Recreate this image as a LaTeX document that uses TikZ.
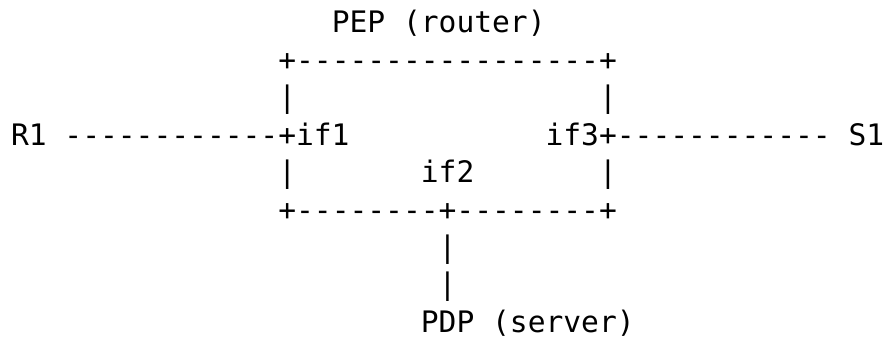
\documentclass[tikz,border=0pt]{standalone}
\usepackage{fontspec}
\setmonofont{DejaVu Sans Mono}
\begin{document}
\begin{tikzpicture}[x=1pt,y=1pt,
  ascii/.style={anchor=base west,inner sep=0pt,outer sep=0pt,font=\ttfamily\fontsize{29.6}{36}\selectfont}]
\useasboundingbox (0,0) rectangle (891,-339);
% column c -> x = 11 + 17.82c ; row r -> baseline y = -(33 + 37.4 r)
\def\cx#1{\fpeval{11+17.82*#1}}
\def\ry#1{\fpeval{-(33+37.4*#1)}}
\node[ascii] (pep)    at (\cx{18},\ry{0}) {PEP};
\node[ascii] (router) at (\cx{22},\ry{0}) {(router)};
\node[ascii] (top)    at (\cx{15},\ry{1}) {+-----------------+};
\node[ascii] (l2)     at (\cx{15},\ry{2}) {|};
\node[ascii] (r2)     at (\cx{33},\ry{2}) {|};
\node[ascii] (R1)     at (\cx{0},\ry{3})  {R1};
\node[ascii] (if1)    at (\cx{3},\ry{3})  {------------+if1};
\node[ascii] (if3)    at (\cx{30},\ry{3}) {if3+------------};
\node[ascii] (S1)     at (\cx{47},\ry{3}) {S1};
\node[ascii] (l4)     at (\cx{15},\ry{4}) {|};
\node[ascii] (if2)    at (\cx{23},\ry{4}) {if2};
\node[ascii] (r4)     at (\cx{33},\ry{4}) {|};
\node[ascii] (bot)    at (\cx{15},\ry{5}) {+--------+--------+};
\node[ascii] (v6)     at (\cx{24},\ry{6}) {|};
\node[ascii] (v7)     at (\cx{24},\ry{7}) {|};
\node[ascii] (pdp)    at (\cx{23},\ry{8}) {PDP};
\node[ascii] (server) at (\cx{27},\ry{8}) {(server)};
\end{tikzpicture}
\end{document}
